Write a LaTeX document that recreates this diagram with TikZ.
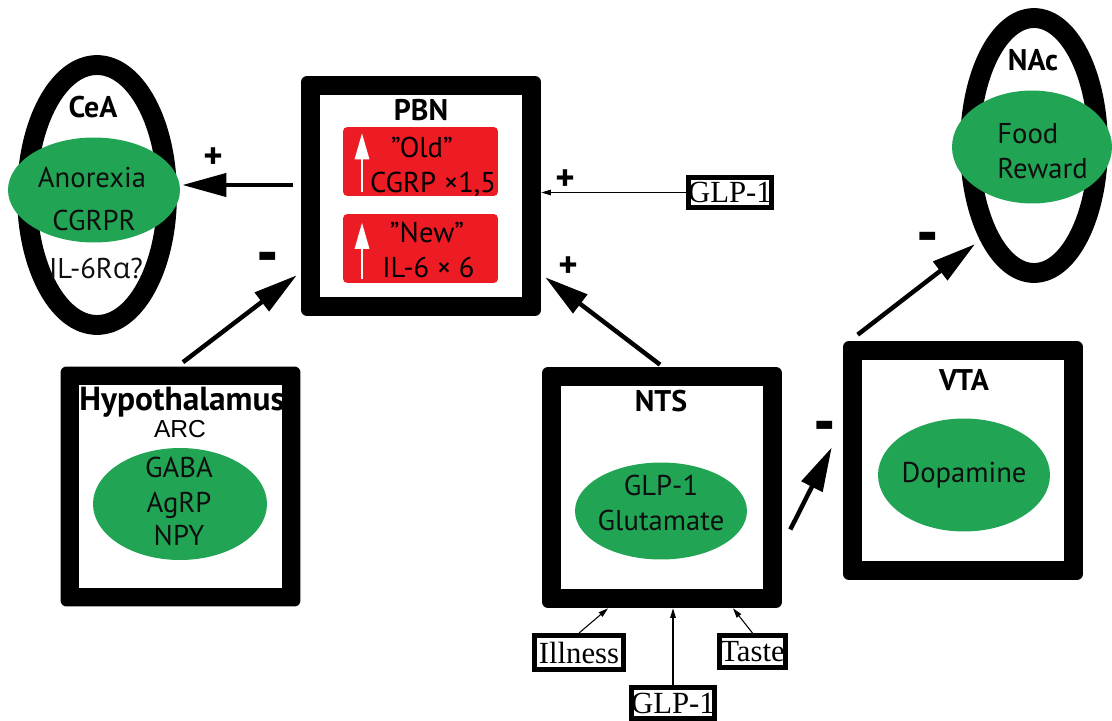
\documentclass[tikz,border=0pt]{standalone}
\usepackage{fontspec}
\usepackage{graphicx}
\setmainfont{PT Sans}
\newfontfamily\arialf{Liberation Sans}
\newfontfamily\timesf{Liberation Serif}
\newfontfamily\grkf{Open Sans}
\usetikzlibrary{arrows.meta,shapes.geometric}
\definecolor{grn}{RGB}{33,165,84}
\definecolor{rd}{RGB}{237,28,36}
\definecolor{ink}{RGB}{15,15,15}
\begin{document}
\begin{tikzpicture}[x=0.02cm,y=-0.02cm,
 frame/.style={fill=black, rounded corners=3.4pt, inner sep=0, minimum width=4.8cm, minimum height=4.8cm},
 ring/.style={ellipse, draw=black, line width=11.3pt, inner sep=0},
 blob/.style={ellipse, fill=grn, inner sep=0},
 redbox/.style={fill=rd, rounded corners=2.5pt, inner sep=0, minimum width=3.1cm, minimum height=1.38cm},
 tbox/.style={draw=black, line width=2.8pt, fill=white, inner sep=0, font=\timesf\fontsize{17.5}{18}\selectfont},
 txt/.style={font=\fontsize{16.3}{18}\selectfont, text=ink, inner sep=0, anchor=base},
 ttl/.style={font=\bfseries\fontsize{17}{18}\selectfont, inner sep=0, anchor=base},
 sgn/.style={font=\bfseries\fontsize{21}{20}\selectfont, inner sep=0},
 big/.style={line width=2.55pt, -{Triangle[length=25pt,width=13pt]}},
 fine/.style={line width=0.6pt, -{Triangle[length=5.5pt,width=3.2pt]}},
 whitearrow/.style={white, line width=1.7pt, -{Triangle[length=15pt,width=8pt]}}
]
\useasboundingbox (0,0) rectangle (1112,720);

% frames
\node[frame] (pbn) at (421,196) {};
\node[frame] (hyp) at (180.5,486.5) {};
\node[frame, minimum height=4.82cm] (nts) at (662,487.5) {};
\node[frame, minimum height=4.78cm] (vta) at (963,460.5) {};
\foreach \n in {pbn,hyp,nts,vta}
  \fill[white] ([shift={(19,-19)}]\n.south west) rectangle ([shift={(-19,19)}]\n.north east);

% rings
\node[ring, minimum width=2.8cm, minimum height=5.2cm] (cea) at (97,195) {};
\node[ring, minimum width=2.56cm, minimum height=5.1cm] (nac) at (1034,145.5) {};

% green blobs
\node[blob, minimum width=3.44cm, minimum height=2.1cm] (ceab) at (94,190) {};
\node[blob, minimum width=3.2cm, minimum height=2.26cm] (nacb) at (1032,147) {};
\node[blob, minimum width=3.48cm, minimum height=2.24cm] (hypb) at (180,504) {};
\node[blob, minimum width=3.44cm, minimum height=1.94cm] (ntsb) at (661,511) {};
\node[blob, minimum width=3.44cm, minimum height=2.26cm] (vtab) at (964,475) {};

% red boxes
\node[redbox] (old) at (420.5,161.5) {};
\node[redbox] (new) at (420.5,248.5) {};
\draw[whitearrow] ([shift={(-58.5,30.5)}]old.center) -- ([shift={(-58.5,-28.5)}]old.center);
\draw[whitearrow] ([shift={(-58.5,30)}]new.center) -- ([shift={(-58.5,-26)}]new.center);

% texts
\node[ttl] (tcea) at (93,117) {CeA};
\node[txt] (tano) at (92,187) {Anorexia};
\node[txt] (tcgrpr) at (94,230) {CGRPR};
\node[txt] (til6r) at (96,278) {IL-6R{\grkf α}?};

\node[ttl] (tnac) at (1033,70) {NAc};
\node[txt, anchor=base west] (tfood) at (997,143) {Food};
\node[txt, anchor=base west] (trew) at (997,178) {Reward};

\node[ttl] (tpbn) at (421,120) {PBN};
\node[txt, text=black] (told) at (422,157) {''Old''};
\node[txt, text=black] (tcgrp) at (433,192) {CGRP ×1,5};
\node[txt, text=black] (tnew) at (427,242) {''New''};
\node[txt, text=black] (til6) at (428.5,277) {IL-6 × 6};

\node[ttl, font=\bfseries\fontsize{19}{20}\selectfont] (thyp) at (182,410) {Hypothalamus};
\node[txt, font=\arialf\fontsize{14}{16}\selectfont, text=black] (tarc) at (180,437) {ARC};
\node[txt] (tgaba) at (179,477) {GABA};
\node[txt] (tagrp) at (179,512) {AgRP};
\node[txt] (tnpy) at (179,545) {NPY};

\node[ttl] (tnts) at (661,411) {NTS};
\node[txt] (tglp) at (661,495) {GLP-1};
\node[txt] (tglu) at (661,530) {Glutamate};

\node[ttl] (tvta) at (964,390) {VTA};
\node[txt] (tdopa) at (964,482) {Dopamine};

% input boxes
\node[tbox, minimum width=1.62cm, minimum height=0.6cm] (glpr) at (730,192.5) {GLP-1};
\node[tbox, minimum width=1.78cm, minimum height=0.68cm] (ill) at (579,652.5) {Illness};
\node[tbox, minimum width=1.66cm, minimum height=0.62cm] (glpb) at (673,703) {GLP-1};
\node[tbox, minimum width=1.32cm, minimum height=0.64cm] (tst) at (752.5,651.5) {Taste};

% connectors
\draw[big] ([shift={(-8,-11)}]pbn.west) -- ([shift={(2,-5)}]ceab.east);
\draw[big] ([shift={(2.5,-4)}]hyp.north) -- ([shift={(-4,-41)}]pbn.south west);
\draw[fine] (glpr.west) -- (glpr.west -| pbn.east);
\draw[big] ([shift={(-2,-2)}]nts.north) -- ([shift={(4,-39)}]pbn.south east);
\draw[big] ([shift={(8,42)}]nts.east) -- ([shift={(-11,-13)}]vta.west);
\draw[big] ([shift={(15,-6)}]vta.north west) -- ([shift={(-5,5)}]nac.240);
\draw[fine] (ill.north) -- ([shift={(-54,0)}]nts.south);
\draw[fine] (glpb.north) -- (glpb.north |- nts.south);
\draw[fine] (tst.north) -- ([shift={(71,0)}]nts.south);

% signs
\node[sgn] (s1) at (213,158) {+};
\node[sgn] (s2) at (565,180) {+};
\node[sgn] (s3) at (568,267) {+};
\node[sgn] (m1) at (268,264) {\scalebox{1.7}[1.9]{-}};
\node[sgn] (m2) at (825,433) {\scalebox{1.7}[1.9]{-}};
\node[sgn] (m3) at (928,244) {\scalebox{1.7}[1.9]{-}};
\end{tikzpicture}
\end{document}
